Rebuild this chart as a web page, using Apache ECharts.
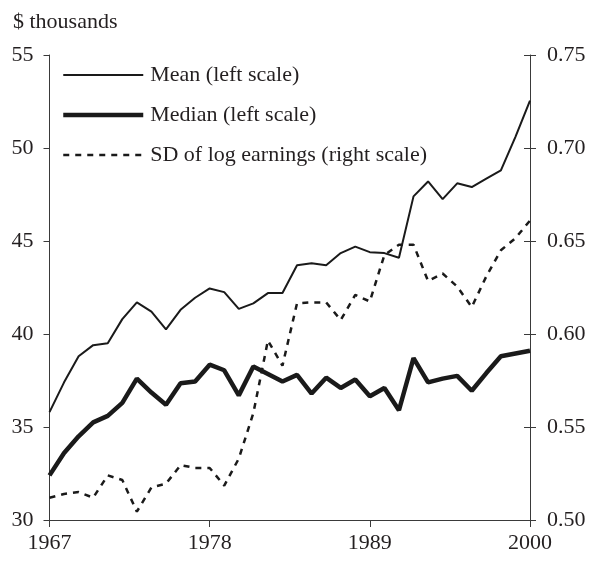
<!DOCTYPE html>
<html>
<head>
<meta charset="utf-8">
<script src="https://cdn.jsdelivr.net/npm/echarts@6/dist/echarts.min.js"></script>
<style>html,body{margin:0;padding:0;background:#fff}#c{width:589px;height:563px}</style>
</head>
<body>
<div id="c"></div>
<script>
const years = [];
for (let y = 1967; y <= 2000; y++) years.push(String(y));

const meanEarnings = [35.8, 37.4, 38.8, 39.4, 39.5, 40.8, 41.7, 41.2, 40.25, 41.3, 41.95, 42.45, 42.25, 41.35, 41.65, 42.2, 42.2,
  43.7, 43.8, 43.7, 44.35, 44.7, 44.4, 44.35, 44.1, 47.4, 48.2, 47.25, 48.1, 47.9, 48.35, 48.8, 50.6, 52.55];
const medianEarnings = [32.4, 33.6, 34.5, 35.25, 35.6, 36.3, 37.6, 36.85, 36.2, 37.35, 37.45, 38.35, 38.05, 36.7, 38.25, 37.85, 37.45,
  37.8, 36.8, 37.65, 37.1, 37.55, 36.65, 37.1, 35.9, 38.7, 37.4, 37.6, 37.75, 36.95, 37.9, 38.8, 38.95, 39.1];
const sdLogEarnings = [0.512, 0.514, 0.515, 0.512, 0.524, 0.5215, 0.5045, 0.5175, 0.5195, 0.5295, 0.528, 0.528, 0.5185, 0.533, 0.5575,
  0.5965, 0.583, 0.6165, 0.617, 0.617, 0.6075, 0.621, 0.6175, 0.6425, 0.648, 0.648, 0.6285, 0.6325, 0.6255, 0.6145, 0.631, 0.645, 0.6515, 0.661];

const seriesNames = ['Mean (left scale)', 'Median (left scale)', 'SD of log earnings (right scale)'];
const leftTicks = { min: 30, max: 55, interval: 5 };
const rightTicks = { min: 0.5, max: 0.75, interval: 0.05 };

const FONT = 'Liberation Serif';
const FS = 22;
const TXT = '#231f20';
const AX = '#3a3a3a';
const INK = '#1a1a1a';
const widths = [2, 4.5, 2.5];
const dash = [6, 6];

const chart = echarts.init(document.getElementById('c'), null, { renderer: 'canvas' });
chart.setOption({
  animation: false,
  backgroundColor: '#fff',
  textStyle: { fontFamily: FONT, color: TXT },
  title: {
    text: '$ thousands', left: 8, top: 6,
    textStyle: { fontFamily: FONT, fontSize: FS, fontWeight: 'normal', color: TXT }
  },
  legend: {
    orient: 'vertical', left: 56, top: 59,
    itemWidth: 80, itemHeight: 22, itemGap: 18,
    itemStyle: { opacity: 0 },
    textStyle: { fontFamily: FONT, fontSize: FS, color: TXT, padding: [0, 0, 0, 2] },
    data: [
      { name: seriesNames[0], itemStyle: { opacity: 0 }, lineStyle: { color: INK, width: widths[0], type: 'solid' } },
      { name: seriesNames[1], itemStyle: { opacity: 0 }, lineStyle: { color: INK, width: widths[1], type: 'solid' } },
      { name: seriesNames[2], itemStyle: { opacity: 0 }, lineStyle: { color: INK, width: widths[2], type: dash } }
    ]
  },
  grid: { left: 49.5, right: 59, top: 55, bottom: 43, containLabel: false },
  xAxis: {
    type: 'category', data: years, boundaryGap: false,
    axisLine: { lineStyle: { color: AX, width: 1 } },
    axisTick: { interval: 10, length: 7, inside: false, lineStyle: { color: AX } },
    axisLabel: { interval: 10, margin: 12, fontFamily: FONT, fontSize: FS, color: TXT },
    splitLine: { show: false }
  },
  yAxis: [
    {
      type: 'value', position: 'left', min: leftTicks.min, max: leftTicks.max, interval: leftTicks.interval,
      axisLine: { show: true, lineStyle: { color: AX, width: 1 } },
      axisTick: { show: true, length: 6, lineStyle: { color: AX } },
      axisLabel: { margin: 16, fontFamily: FONT, fontSize: FS, color: TXT },
      splitLine: { show: false }
    },
    {
      type: 'value', position: 'right', min: rightTicks.min, max: rightTicks.max, interval: rightTicks.interval,
      axisLine: { show: true, lineStyle: { color: AX, width: 1 } },
      axisTick: { show: true, length: 6, lineStyle: { color: AX } },
      axisLabel: { margin: 17, fontFamily: FONT, fontSize: FS, color: TXT, formatter: v => v.toFixed(2) },
      splitLine: { show: false }
    },
    {
      type: 'value', position: 'right', min: rightTicks.min, max: rightTicks.max, interval: rightTicks.interval,
      axisLine: { show: false },
      axisTick: { show: true, inside: true, length: 6, lineStyle: { color: AX } },
      axisLabel: { show: false },
      splitLine: { show: false }
    }
  ],
  series: [
    {
      name: seriesNames[0], type: 'line', yAxisIndex: 0, data: meanEarnings,
      showSymbol: false, symbol: 'none',
      lineStyle: { color: INK, width: widths[0] }, itemStyle: { color: INK }
    },
    {
      name: seriesNames[1], type: 'line', yAxisIndex: 0, data: medianEarnings,
      showSymbol: false, symbol: 'none',
      lineStyle: { color: INK, width: widths[1] }, itemStyle: { color: INK }
    },
    {
      name: seriesNames[2], type: 'line', yAxisIndex: 1, data: sdLogEarnings,
      showSymbol: false, symbol: 'none',
      lineStyle: { color: INK, width: widths[2], type: dash }, itemStyle: { color: INK }
    }
  ]
});
</script>
</body>
</html>
